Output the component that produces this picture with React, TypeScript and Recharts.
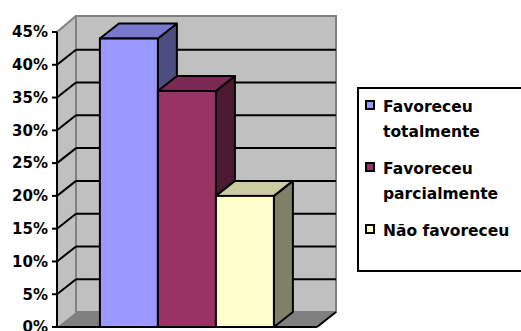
import React from 'react';
import { BarChart, Bar, XAxis, YAxis, CartesianGrid, Legend } from 'recharts';

// Single category, three answer groups (percent of respondents)
const categories = ['Total'];
const seriesNames = ['Favoreceu totalmente', 'Favoreceu parcialmente', 'Não favoreceu'];
const totalmente = [44];
const parcialmente = [36];
const naoFavoreceu = [20];
const yTicks = [0, 5, 10, 15, 20, 25, 30, 35, 40, 45];

const data = categories.map((categoria, i) => ({
  categoria,
  totalmente: totalmente[i],
  parcialmente: parcialmente[i],
  naoFavoreceu: naoFavoreceu[i],
}));

// depth offset used for the pseudo-3D walls and boxes
const DX = 19;
const DY = -15;

const FONT = "'DejaVu Sans', sans-serif";

function makeBox(topColor: string, sideColor: string) {
  return (props: any) => {
    const { x, y, width, height, fill } = props;
    if (width == null || height == null) return <g />;
    const side = [
      [x + width, y],
      [x + width + DX, y + DY],
      [x + width + DX, y + height + DY],
      [x + width, y + height],
    ]
      .map((p) => p.join(','))
      .join(' ');
    const top = [
      [x, y],
      [x + DX, y + DY],
      [x + width + DX, y + DY],
      [x + width, y],
    ]
      .map((p) => p.join(','))
      .join(' ');
    return (
      <g>
        <polygon points={side} fill={sideColor} stroke="#000" strokeWidth={2} strokeLinejoin="round" />
        <polygon points={top} fill={topColor} stroke="#000" strokeWidth={2} strokeLinejoin="round" />
        <rect x={x} y={y} width={width} height={height} fill={fill} stroke="#000" strokeWidth={2} />
      </g>
    );
  };
}

// Walls, floor and grid lines of the 3D box, drawn per horizontal grid line
const renderWallLine = (p: any) => {
  const { x, y, width, height, y1, index } = p;
  const bottom = y + height;
  const isEdge = Math.abs(y1 - y) < 0.5 || Math.abs(y1 - bottom) < 0.5;
  const sideWall = [
    [x, y],
    [x + DX, y + DY],
    [x + DX, bottom + DY],
    [x, bottom],
  ]
    .map((q) => q.join(','))
    .join(' ');
  const floor = [
    [x, bottom],
    [x + DX, bottom + DY],
    [x + width + DX, bottom + DY],
    [x + width, bottom],
  ]
    .map((q) => q.join(','))
    .join(' ');
  return (
    <g key={`wall-${index}`}>
      {index === 0 && (
        <g>
          <rect x={x + DX} y={y + DY - 1} width={width} height={height + 1} fill="#C0C0C0" stroke="#808080" strokeWidth={2} />
          <polygon points={sideWall} fill="#C0C0C0" />
          <line x1={x} y1={y} x2={x + DX} y2={y + DY - 1} stroke="#808080" strokeWidth={2} />
          <line x1={x + DX} y1={y + DY} x2={x + DX} y2={bottom + DY} stroke="#808080" strokeWidth={2} />
          <polygon points={floor} fill="#808080" />
          <line x1={x + width} y1={bottom} x2={x + width + DX} y2={bottom + DY} stroke="#000" strokeWidth={2} />
        </g>
      )}
      {!isEdge && (
        <g>
          <line x1={x} y1={y1} x2={x + DX} y2={y1 + DY} stroke="#000" strokeWidth={2} />
          <line x1={x + DX} y1={y1 + DY} x2={x + width + DX} y2={y1 + DY} stroke="#000" strokeWidth={2} />
        </g>
      )}
    </g>
  );
};

const renderLegend = (props: any) => {
  const payload = [...(props.payload || [])].sort(
    (a: any, b: any) => seriesNames.indexOf(a.value) - seriesNames.indexOf(b.value)
  );
  return (
    <div
      style={{
        boxSizing: 'border-box',
        width: 175,
        height: 185,
        border: '2px solid #000',
        background: '#fff',
        padding: '6px 0 0 6px',
        fontFamily: FONT,
        fontWeight: 'bold',
        fontSize: 15.5,
        lineHeight: '25px',
        color: '#000',
      }}
    >
      {payload.map((entry: any, i: number) => (
        <div key={i} style={{ display: 'flex', alignItems: 'flex-start', marginBottom: 12 }}>
          <div
            style={{
              boxSizing: 'border-box',
              width: 10,
              height: 10,
              marginTop: 5,
              marginRight: 8,
              border: '2px solid #000',
              background: entry.color,
              flex: 'none',
            }}
          />
          <div style={{ width: 135 }}>{entry.value}</div>
        </div>
      ))}
    </div>
  );
};

export default function App() {
  return (
    <div style={{ position: 'absolute', left: 0, top: 0, width: 521, height: 331, overflow: 'hidden', background: '#fff' }}>
      <BarChart
        width={521}
        height={331}
        data={data}
        margin={{ top: 32, right: 204, bottom: 0, left: 0 }}
        barCategoryGap="16.5%"
        barGap={0}
      >
        <CartesianGrid horizontal={renderWallLine} vertical={false} />
        <XAxis
          dataKey="categoria"
          height={4}
          tick={false}
          tickLine={false}
          axisLine={{ stroke: '#000', strokeWidth: 2 }}
        />
        <YAxis
          width={57}
          domain={[0, 45]}
          ticks={yTicks}
          interval={0}
          tickFormatter={(v: number) => `${v}%`}
          tickSize={5}
          tickMargin={4}
          tickLine={{ stroke: '#000', strokeWidth: 2 }}
          axisLine={{ stroke: '#000', strokeWidth: 2 }}
          tick={{ fill: '#000', fontSize: 15, fontWeight: 'bold', fontFamily: FONT }}
        />
        <Legend
          layout="horizontal"
          align="center"
          verticalAlign="middle"
          wrapperStyle={{ left: 357, top: 87, width: 175, height: 185 }}
          content={renderLegend}
        />
        <Bar
          dataKey="totalmente"
          name={seriesNames[0]}
          fill="#9999FF"
          shape={makeBox('#7878CC', '#4D4D80')}
          isAnimationActive={false}
        />
        <Bar
          dataKey="parcialmente"
          name={seriesNames[1]}
          fill="#993366"
          shape={makeBox('#7A2952', '#4D1A33')}
          isAnimationActive={false}
        />
        <Bar
          dataKey="naoFavoreceu"
          name={seriesNames[2]}
          fill="#FFFFCC"
          shape={makeBox('#CCCCA3', '#808066')}
          isAnimationActive={false}
        />
      </BarChart>
    </div>
  );
}
